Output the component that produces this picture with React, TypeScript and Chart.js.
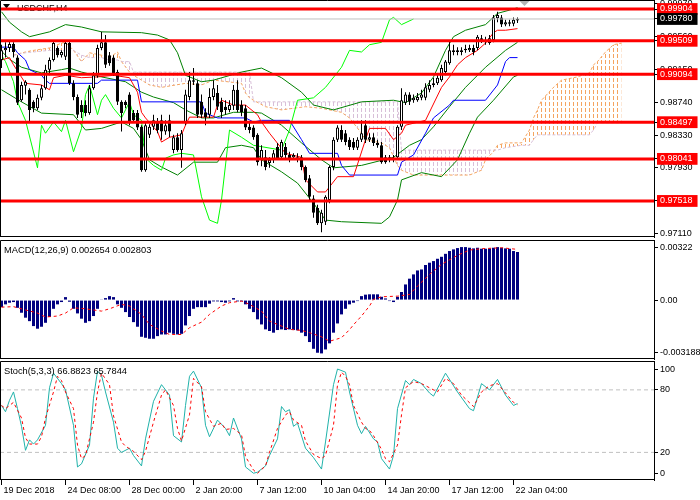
import React, { useEffect, useRef } from "react";
import { Chart, registerables } from "chart.js";
Chart.register(...registerables);

const FONT = "'Liberation Sans', Arial, sans-serif";
const X_MIN = -0.375;
const X_MAX = 163.125;
const TITLE = "USDCHF,H4";
const MACD_TITLE = "MACD(12,26,9) 0.002654 0.002803";
const STOCH_TITLE = "Stoch(5,3,3) 66.8823 65.7844";

// ---------- candles (H4 bars, index 0..129) ----------
const openP = [
  0.9927, 0.9939, 0.9942, 0.9947, 0.993, 0.9877, 0.9895, 0.989, 0.9875, 0.9867,
  0.988, 0.9892, 0.9915, 0.9927, 0.9942, 0.9933, 0.9931, 0.9948, 0.9898, 0.9881,
  0.9871, 0.9871, 0.9861, 0.9892, 0.9908, 0.9942, 0.9949, 0.9933, 0.993, 0.9912,
  0.9875, 0.9875, 0.9884, 0.9861, 0.9861, 0.9844, 0.979, 0.9834, 0.9844, 0.985,
  0.9852, 0.9838, 0.9852, 0.9815, 0.9831, 0.9815, 0.985, 0.9881, 0.9902, 0.9898,
  0.9875, 0.9862, 0.9859, 0.9881, 0.9886, 0.9875, 0.9869, 0.9865, 0.987, 0.989,
  0.9871, 0.9867, 0.9844, 0.9843, 0.9834, 0.9803, 0.9806, 0.9799, 0.9803, 0.9819,
  0.9806, 0.9819, 0.9809, 0.9806, 0.9803, 0.9806, 0.9794, 0.978, 0.9755, 0.9743,
  0.9724, 0.9726, 0.9753, 0.9794, 0.9828, 0.984, 0.9836, 0.9828, 0.9825, 0.9818,
  0.9828, 0.9846, 0.9828, 0.9831, 0.9824, 0.9821, 0.9806, 0.9803, 0.9805, 0.9806,
  0.9844, 0.9874, 0.9884, 0.9877, 0.9877, 0.988, 0.988, 0.989, 0.9896, 0.9898,
  0.9902, 0.9912, 0.9923, 0.9937, 0.9939, 0.9937, 0.9939, 0.9939, 0.9942, 0.9942,
  0.9952, 0.9949, 0.9948, 0.9952, 0.9979, 0.998, 0.9971, 0.9974, 0.9972, 0.9976,
];
const highP = [
  0.9946, 0.9949, 0.9952, 0.9949, 0.9933, 0.99, 0.9902, 0.9892, 0.9877, 0.9884,
  0.9896, 0.9921, 0.993, 0.9952, 0.9944, 0.9939, 0.9952, 0.9951, 0.9902, 0.9884,
  0.9877, 0.9877, 0.9896, 0.9912, 0.9946, 0.9962, 0.9958, 0.9937, 0.9933, 0.9915,
  0.9877, 0.9877, 0.9887, 0.9865, 0.9865, 0.9846, 0.985, 0.9847, 0.9859, 0.9855,
  0.9859, 0.9852, 0.9859, 0.9834, 0.9836, 0.984, 0.989, 0.9912, 0.9917, 0.9902,
  0.9884, 0.9867, 0.9892, 0.9902, 0.9896, 0.988, 0.9877, 0.9877, 0.9896, 0.9902,
  0.9877, 0.9871, 0.985, 0.9846, 0.9836, 0.9821, 0.9815, 0.9806, 0.9815, 0.9824,
  0.9828, 0.9824, 0.9813, 0.9811, 0.9811, 0.9809, 0.9796, 0.9784, 0.9759, 0.9747,
  0.9741, 0.9759, 0.9796, 0.9831, 0.9846, 0.9846, 0.984, 0.9831, 0.983, 0.9831,
  0.9852, 0.9852, 0.9836, 0.9836, 0.9828, 0.9825, 0.9809, 0.9809, 0.9809, 0.9846,
  0.9892, 0.9887, 0.9887, 0.9884, 0.9886, 0.989, 0.9898, 0.9902, 0.9905, 0.9908,
  0.9921, 0.9927, 0.9952, 0.9946, 0.9943, 0.9943, 0.9946, 0.9946, 0.9946, 0.9958,
  0.9958, 0.9956, 0.9958, 0.9983, 0.9987, 0.9983, 0.9977, 0.9977, 0.998, 0.998,
];
const lowP = [
  0.9917, 0.993, 0.9937, 0.993, 0.9871, 0.9875, 0.9884, 0.985, 0.9862, 0.9865,
  0.9877, 0.989, 0.9908, 0.9925, 0.993, 0.993, 0.9927, 0.9896, 0.9877, 0.9855,
  0.9855, 0.9857, 0.9859, 0.989, 0.9905, 0.9939, 0.9917, 0.992, 0.9907, 0.9871,
  0.9838, 0.9867, 0.9846, 0.9849, 0.984, 0.9788, 0.9788, 0.983, 0.984, 0.9836,
  0.9828, 0.9834, 0.9831, 0.9811, 0.9813, 0.9793, 0.9846, 0.9877, 0.9896, 0.9855,
  0.9855, 0.9846, 0.9855, 0.9877, 0.9865, 0.9855, 0.9859, 0.9862, 0.9865, 0.9862,
  0.9857, 0.984, 0.9836, 0.9828, 0.9796, 0.9795, 0.979, 0.9793, 0.9799, 0.9803,
  0.9803, 0.9805, 0.98, 0.9803, 0.98, 0.979, 0.9775, 0.9753, 0.9731, 0.9722,
  0.9713, 0.9722, 0.9749, 0.979, 0.9825, 0.9825, 0.9821, 0.9815, 0.9815, 0.9815,
  0.9825, 0.9824, 0.9825, 0.982, 0.9818, 0.9798, 0.9798, 0.98, 0.98, 0.9803,
  0.984, 0.9871, 0.9871, 0.9874, 0.9875, 0.9877, 0.9877, 0.9887, 0.9893, 0.9896,
  0.99, 0.9908, 0.9921, 0.9933, 0.9933, 0.9933, 0.9936, 0.9937, 0.9933, 0.9939,
  0.9948, 0.9946, 0.9946, 0.9949, 0.9974, 0.9968, 0.9969, 0.9969, 0.9969, 0.9973,
];
const closeP = [
  0.9939, 0.9942, 0.9947, 0.9937, 0.9874, 0.9896, 0.99, 0.9865, 0.9867, 0.988,
  0.9892, 0.9915, 0.9927, 0.9948, 0.9933, 0.9937, 0.9948, 0.9898, 0.9881, 0.9859,
  0.9862, 0.9861, 0.9892, 0.9908, 0.9942, 0.9949, 0.9921, 0.9923, 0.9911, 0.9875,
  0.9861, 0.9871, 0.985, 0.9852, 0.9843, 0.979, 0.9846, 0.9844, 0.9852, 0.984,
  0.9838, 0.9846, 0.9838, 0.9831, 0.9815, 0.9836, 0.9884, 0.9902, 0.99, 0.9859,
  0.9859, 0.9856, 0.9881, 0.9892, 0.9869, 0.9862, 0.9865, 0.9871, 0.989, 0.9865,
  0.9862, 0.9843, 0.984, 0.9831, 0.98, 0.9815, 0.9794, 0.9803, 0.9811, 0.9805,
  0.9825, 0.9809, 0.9805, 0.9809, 0.9806, 0.9794, 0.9778, 0.9757, 0.9737, 0.9724,
  0.9737, 0.9757, 0.9794, 0.9828, 0.9843, 0.9828, 0.9825, 0.9819, 0.9818, 0.9828,
  0.9836, 0.9828, 0.9831, 0.9824, 0.9821, 0.98, 0.98, 0.9806, 0.9803, 0.9844,
  0.9877, 0.9884, 0.9875, 0.988, 0.9881, 0.9884, 0.9893, 0.9896, 0.9898, 0.9905,
  0.9917, 0.9925, 0.9939, 0.9939, 0.9937, 0.9939, 0.9941, 0.9942, 0.9937, 0.9956,
  0.9954, 0.9952, 0.9954, 0.998, 0.9983, 0.9971, 0.9974, 0.9972, 0.9977, 0.9978,
];

// ---------- Bollinger bands [barIndex, price] ----------
const bbUpper = [
  [0, 0.9987], [2, 0.9974], [5, 0.9962], [7, 0.9956], [12, 0.9962], [16, 0.9971], [20, 0.9968],
  [25, 0.9962], [35, 0.9961], [39, 0.9958], [42, 0.9952], [44, 0.9936], [46, 0.9908], [50, 0.99],
  [53, 0.9902], [60, 0.9912], [65, 0.9917], [70, 0.9905], [75, 0.9887], [78, 0.9871], [83, 0.9865],
  [90, 0.9875], [98, 0.9877], [101, 0.9874], [105, 0.9886], [108, 0.9906], [111, 0.9939],
  [113, 0.9956], [116, 0.9964], [121, 0.9971], [124, 0.9985], [127, 0.9989], [129, 0.9992],
];
const bbMiddle = [
  [0, 0.9938], [2, 0.9928], [5, 0.9918], [10, 0.9911], [15, 0.9915], [17, 0.9917], [20, 0.9912],
  [25, 0.9906], [31, 0.99], [35, 0.9887], [38, 0.9881], [43, 0.9874], [46, 0.9865], [50, 0.9855],
  [53, 0.9855], [58, 0.9862], [63, 0.9862], [65, 0.9861], [70, 0.9846], [75, 0.9824], [80, 0.9803],
  [83, 0.9793], [90, 0.9796], [98, 0.9806], [102, 0.9821], [105, 0.9828], [108, 0.9844],
  [112, 0.9869], [116, 0.9893], [121, 0.9918], [126, 0.9939], [129, 0.9949],
];
const bbLower = [
  [0, 0.989], [5, 0.9875], [10, 0.9861], [18, 0.9859], [21, 0.984], [25, 0.9842], [30, 0.985],
  [33, 0.9842], [35, 0.9828], [37, 0.9803], [40, 0.9794], [44, 0.9784], [48, 0.98], [54, 0.98],
  [56, 0.9818], [60, 0.9821], [63, 0.9818], [65, 0.9803], [70, 0.9788], [74, 0.9774], [78, 0.9749],
  [81, 0.9728], [85, 0.9726], [95, 0.9724], [97, 0.9732], [99, 0.9753], [100, 0.9778],
  [105, 0.9787], [110, 0.9782], [114, 0.9803], [117, 0.9836], [119, 0.9856], [123, 0.9877],
  [128, 0.9906], [129, 0.9908],
];

// ---------- Ichimoku [barIndex, price] ----------
const tenkan = [
  [0, 0.9927], [2, 0.993], [3, 0.9921], [6, 0.9898], [10, 0.9896], [12, 0.989], [13, 0.9905],
  [16, 0.9908], [20, 0.9905], [24, 0.9906], [28, 0.9908], [32, 0.9905], [34, 0.9887], [35, 0.9862],
  [36, 0.9855], [39, 0.9838], [40, 0.9825], [42, 0.9831], [45, 0.9834], [46, 0.9846], [47, 0.9856],
  [53, 0.9856], [54, 0.9871], [55, 0.9877], [58, 0.9871], [61, 0.9871], [64, 0.9859], [65, 0.985],
  [67, 0.9836], [71, 0.9811], [75, 0.9806], [76, 0.9778], [79, 0.9763], [81, 0.9763], [84, 0.9782],
  [88, 0.9782], [91, 0.9828], [92, 0.9842], [96, 0.9842], [98, 0.9828], [100, 0.9836],
  [101, 0.9846], [106, 0.9852], [110, 0.9893], [112, 0.9906], [114, 0.9921], [116, 0.993],
  [119, 0.9939], [121, 0.9948], [123, 0.9961], [124, 0.9964], [126, 0.9964], [129, 0.9966],
];
const kijun = [
  [0, 0.9943], [3, 0.9943], [4, 0.9936], [6, 0.9927], [7, 0.9915], [10, 0.9908], [11, 0.9902],
  [12, 0.9898], [24, 0.9898], [25, 0.9902], [34, 0.9902], [35, 0.9875], [50, 0.9875], [51, 0.9861],
  [54, 0.9855], [61, 0.9855], [63, 0.985], [65, 0.9852], [72, 0.9852], [75, 0.9828], [77, 0.9811],
  [84, 0.9811], [85, 0.9796], [87, 0.9784], [99, 0.9784], [100, 0.98], [103, 0.9809],
  [106, 0.9836], [108, 0.9855], [112, 0.9871], [113, 0.9877], [121, 0.9877], [124, 0.9896],
  [126, 0.9925], [127, 0.993], [129, 0.993],
];
const chikou = [
  [0, 0.9933], [1, 0.9925], [3, 0.99], [4, 0.9875], [6, 0.9852], [9, 0.9793], [10, 0.9846],
  [11, 0.9836], [13, 0.985], [15, 0.9838], [16, 0.9852], [18, 0.9813], [20, 0.9842], [21, 0.9884],
  [22, 0.9896], [24, 0.9859], [25, 0.9877], [26, 0.9884], [28, 0.9867], [30, 0.9855], [32, 0.9875],
  [33, 0.9859], [35, 0.9852], [36, 0.9805], [38, 0.9796], [40, 0.979], [41, 0.9805], [43, 0.9809],
  [45, 0.9811], [48, 0.9809], [50, 0.9757], [52, 0.9728], [54, 0.9724], [55, 0.9753], [57, 0.984],
  [60, 0.9831], [63, 0.9821], [70, 0.9815], [72, 0.984], [74, 0.9877], [78, 0.988], [81, 0.9893],
  [85, 0.9918], [87, 0.9939], [90, 0.9937], [92, 0.9946], [95, 0.9949], [97, 0.9977], [98, 0.998],
  [100, 0.9971], [103, 0.9978],
];
const spanIdx = [
  3, 6, 8, 12, 15, 16, 18, 20, 22, 25, 27, 29, 30, 32, 33, 35, 37, 40, 46, 50,
  53, 60, 61, 62, 63, 66, 70, 76, 80, 85, 87, 90, 91, 95, 97, 99, 100, 103, 117, 120,
  121, 123, 124, 126, 130, 132, 133, 134, 135, 138, 140, 144, 147, 148, 149, 151, 153, 155,
];
const spanA = [
  0.9933, 0.9937, 0.9939, 0.9942, 0.9948, 0.9949, 0.9939, 0.9925, 0.9936, 0.9933,
  0.993, 0.9937, 0.9925, 0.9912, 0.9908, 0.9902, 0.9896, 0.9893, 0.9898, 0.9896,
  0.9902, 0.9898, 0.9886, 0.988, 0.9877, 0.9869, 0.9865, 0.9869, 0.9867, 0.9862,
  0.9855, 0.9836, 0.9828, 0.9824, 0.9818, 0.9796, 0.979, 0.9784, 0.9784, 0.979,
  0.9803, 0.9813, 0.9821, 0.9824, 0.9824, 0.984, 0.9855, 0.9865, 0.9877, 0.9893,
  0.9902, 0.9906, 0.9911, 0.9921, 0.9925, 0.9937, 0.9946, 0.9948,
];
const spanB = [
  0.9933, 0.9936, 0.9937, 0.9939, 0.9939, 0.9939, 0.9939, 0.9933, 0.993, 0.993,
  0.9927, 0.9927, 0.9925, 0.9925, 0.9912, 0.9912, 0.9912, 0.9912, 0.9912, 0.9912,
  0.9912, 0.9912, 0.9912, 0.9912, 0.9875, 0.9875, 0.9875, 0.9875, 0.9875, 0.9875,
  0.9875, 0.9875, 0.9875, 0.9875, 0.9875, 0.9875, 0.9815, 0.9815, 0.9815, 0.9815,
  0.9815, 0.9815, 0.9815, 0.9818, 0.9821, 0.9821, 0.9828, 0.9834, 0.9834, 0.9834,
  0.9834, 0.9834, 0.9834, 0.984, 0.9849, 0.9849, 0.9849, 0.9849,
];

// ---------- levels & price axis ----------
const LEVELS = [0.99904, 0.99509, 0.99094, 0.98497, 0.98041, 0.97518];
const CURRENT_PRICE = 0.9978;
const PRICE_TICKS_HIDDEN = [0.9997, 0.9956, 0.9915, 0.9752];
const PRICE_TICKS = [0.9874, 0.9833, 0.9793, 0.9711];
const PRICE_MIN = 0.9707;
const PRICE_MAX = 1.00016;

// ---------- MACD ----------
const macdHist = [
  -0.00043, -0.00026, -0.00016, -0.00012, -0.00047, -0.00077, -0.00107, -0.00128, -0.00158, -0.00174,
  -0.00162, -0.00138, -0.00103, -0.00053, -0.00026, -0.00012, 0.00018, -0.0001, -0.00053, -0.00081,
  -0.00113, -0.00138, -0.00128, -0.00097, -0.00053, 0.00004, 0.00012, 0.00024, 0.00018, -0.00026,
  -0.00047, -0.00073, -0.00103, -0.00134, -0.00162, -0.00223, -0.00229, -0.00235, -0.00235, -0.00219,
  -0.00209, -0.00209, -0.00198, -0.00205, -0.00209, -0.00205, -0.00154, -0.00097, -0.00053, -0.00043,
  -0.00043, -0.00043, -0.00022, -0.00008, -0.00008, -0.00012, -0.00016, -0.00008, 0.00012, -0.00008,
  -0.00008, -0.00026, -0.00053, -0.00073, -0.00117, -0.00148, -0.00178, -0.00188, -0.00198, -0.00182,
  -0.00178, -0.00182, -0.00178, -0.00182, -0.00184, -0.00198, -0.00219, -0.00255, -0.00296, -0.0032,
  -0.00324, -0.003, -0.00263, -0.00198, -0.00142, -0.00087, -0.00053, -0.00026, -0.00016, -0.00006,
  0.00024, 0.00033, 0.00035, 0.00035, 0.00035, 0.0002, 0.0001, -0.00006, -0.00012, 0.0002,
  0.00049, 0.00095, 0.0013, 0.00156, 0.0018, 0.00186, 0.00213, 0.00227, 0.00237, 0.00251,
  0.00263, 0.00281, 0.00298, 0.00308, 0.00316, 0.00322, 0.00322, 0.00318, 0.00314, 0.00318,
  0.00312, 0.00312, 0.00314, 0.00318, 0.00322, 0.00318, 0.00314, 0.00312, 0.00298, 0.00292,
];
const macdSignal = [
  [0, -0.00043], [3, -0.0004], [6, -0.0006], [9, -0.00079], [11, -0.00103], [14, -0.00097],
  [16, -0.00079], [18, -0.00047], [21, -0.00053], [25, -0.00067], [27, -0.00053], [30, -0.00026],
  [32, -0.00036], [35, -0.00087], [37, -0.00148], [40, -0.00188], [42, -0.00209], [45, -0.00209],
  [47, -0.00168], [50, -0.00134], [52, -0.00087], [55, -0.00036], [57, -0.00016], [60, -0.00006],
  [62, -0.00026], [65, -0.00067], [67, -0.00128], [70, -0.00158], [72, -0.00178], [75, -0.00184],
  [77, -0.00198], [80, -0.00223], [82, -0.0025], [85, -0.00229], [87, -0.0018], [88, -0.0015],
  [90, -0.00097], [92, -0.00036], [93, 0.00004], [95, 0.0002], [99, 0.00024], [102, 0.00034],
  [104, 0.00085], [107, 0.00156], [110, 0.00217], [114, 0.00272], [117, 0.00304], [120, 0.00312],
  [125, 0.00318], [129, 0.00308],
];
const MACD_TICKS = [0.00322, 0, -0.003188];
const MACD_TICK_LABELS = ["0.00322", "0.00", "-0.003188"];
const MACD_MIN = -0.00358;
const MACD_MAX = 0.00365;

// ---------- Stochastic ----------
const stochMain = [
  [0, 65], [1, 59], [2, 70], [3, 78], [4, 62], [5, 45], [6, 22], [7, 32], [8, 28], [9, 32],
  [11, 46], [12, 82], [13, 96], [15, 86], [16, 80], [18, 46], [19, 6], [20, 9], [22, 27], [23, 72],
  [24, 98], [25, 94], [26, 78], [28, 49], [29, 24], [30, 20], [32, 24], [33, 17], [35, 7], [36, 33],
  [38, 69], [40, 85], [42, 75], [43, 36], [45, 30], [46, 65], [47, 93], [48, 98], [50, 82], [51, 46],
  [52, 35], [54, 51], [56, 43], [57, 36], [58, 53], [60, 33], [61, 6], [63, 0], [64, 1], [66, 7],
  [67, 17], [69, 33], [70, 64], [71, 59], [72, 61], [73, 45], [74, 48], [76, 24], [78, 15], [80, 4],
  [81, 30], [83, 85], [84, 100], [86, 97], [87, 78], [89, 46], [90, 38], [91, 45], [93, 33], [94, 30],
  [95, 14], [97, 4], [98, 17], [99, 62], [101, 89], [102, 85], [103, 90], [105, 86], [107, 77],
  [108, 74], [111, 96], [114, 78], [117, 62], [118, 60], [120, 86], [122, 80], [124, 90], [126, 75],
  [128, 65], [129, 66.88],
];
const stochSignal = [
  [0, 65], [1, 62], [3, 68], [5, 53], [6, 34], [7, 28], [9, 28], [10, 35], [11, 53], [13, 78],
  [14, 93], [15, 89], [16, 78], [18, 62], [19, 27], [20, 14], [21, 17], [23, 49], [24, 78], [25, 96],
  [27, 85], [28, 55], [30, 30], [31, 26], [33, 21], [35, 13], [36, 21], [38, 49], [40, 75], [41, 80],
  [43, 65], [44, 43], [45, 31], [47, 56], [48, 91], [50, 83], [51, 59], [53, 45], [55, 48], [56, 42],
  [58, 43], [60, 37], [61, 16], [63, 3], [64, 0], [66, 7], [67, 20], [69, 43], [71, 56], [72, 59],
  [73, 51], [75, 46], [76, 31], [78, 18], [80, 14], [81, 17], [83, 46], [84, 85], [85, 97], [86, 93],
  [87, 85], [88, 65], [90, 49], [91, 43], [92, 41], [93, 36], [95, 23], [96, 14], [97, 11], [99, 27],
  [100, 56], [101, 82], [103, 88], [105, 86], [107, 82], [109, 78], [111, 91], [113, 86], [115, 75],
  [118, 64], [120, 78], [122, 84], [124, 86], [126, 77], [128, 68], [129, 65.78],
];
const STOCH_LEVELS = [80, 20];
const STOCH_TICKS = [100, 80, 20, 0];
const STOCH_MIN = -6.5;
const STOCH_MAX = 107.7;

// ---------- time axis ----------
const X_TICK_IDX = [0, 16, 32, 48, 64, 80, 96, 112, 128];
const X_TICK_LABELS = [
  "19 Dec 2018", "24 Dec 08:00", "28 Dec 00:00", "2 Jan 20:00", "7 Jan 12:00",
  "10 Jan 04:00", "14 Jan 20:00", "17 Jan 12:00", "22 Jan 04:00",
];

// ---------- helpers ----------
const xy = (pairs: number[][]) => pairs.map(([x, y]) => ({ x, y }));
const hLine = (v: number) => [{ x: X_MIN, y: v }, { x: X_MAX, y: v }];

function makePattern(color: string) {
  const c = document.createElement("canvas");
  c.width = 4;
  c.height = 6;
  const g = c.getContext("2d")!;
  g.fillStyle = color;
  g.fillRect(1, 0, 1, 4);
  return g.createPattern(c, "repeat")!;
}

const framePlugin = {
  id: "frame",
  afterDraw(chart: any) {
    const { ctx, chartArea: a } = chart;
    ctx.save();
    ctx.strokeStyle = "#000";
    ctx.lineWidth = 1;
    ctx.beginPath();
    ctx.moveTo(a.left + 0.5, a.bottom - 0.5);
    ctx.lineTo(a.left + 0.5, a.top + 0.5);
    ctx.lineTo(a.right, a.top + 0.5);
    ctx.moveTo(a.left, a.bottom - 0.5);
    ctx.lineTo(a.right, a.bottom - 0.5);
    ctx.stroke();
    ctx.restore();
  },
};

function headerPlugin(text: string, baseline: number) {
  return {
    id: "header",
    afterDatasetsDraw(chart: any) {
      const ctx = chart.ctx;
      ctx.save();
      ctx.fillStyle = "#000";
      ctx.font = `9.3px ${FONT}`;
      ctx.textBaseline = "alphabetic";
      ctx.fillText(text, chart.chartArea.left + 4, baseline);
      ctx.restore();
    },
  };
}

const mainDecor = {
  id: "mainDecor",
  beforeDatasetsDraw(chart: any) {
    const ctx = chart.ctx;
    ctx.save();
    ctx.fillStyle = "#000";
    ctx.beginPath();
    ctx.moveTo(3, 4);
    ctx.lineTo(10, 4);
    ctx.lineTo(6.5, 8.5);
    ctx.closePath();
    ctx.fill();
    ctx.font = `9px ${FONT}`;
    ctx.textBaseline = "alphabetic";
    ctx.fillText(TITLE, 17, 11);
    const sx = chart.scales.x.getPixelForValue(closeP.length + 0.75);
    ctx.fillStyle = "#B4B4B4";
    ctx.beginPath();
    ctx.moveTo(sx - 6, 0);
    ctx.lineTo(sx + 6, 0);
    ctx.lineTo(sx, 6);
    ctx.closePath();
    ctx.fill();
    ctx.restore();
  },
};

const rightAxis = (min: number, max: number, tickVals: number[], extra: any = {}) => ({
  type: "linear",
  position: "right",
  min,
  max,
  afterBuildTicks: (s: any) => {
    s.ticks = tickVals.map((v) => ({ value: v }));
  },
  afterFit: (s: any) => {
    s.width = 46;
    s.paddingTop = 0;
    s.paddingBottom = 0;
  },
  grid: { drawOnChartArea: false, drawTicks: true, tickLength: 4, color: "#000" },
  border: { display: true, color: "#000", width: 1 },
  ...extra,
  ticks: {
    autoSkip: false,
    padding: 2,
    font: { family: FONT, size: 9 },
    color: "#000",
    ...(extra.ticks || {}),
  },
});

const hiddenX = {
  type: "linear",
  min: X_MIN,
  max: X_MAX,
  offset: false,
  grid: { offset: false },
  display: false,
};

const lineDs = (data: any[], color: string, extra: any = {}) => ({
  type: "line",
  data,
  borderColor: color,
  backgroundColor: color,
  borderWidth: 1,
  pointRadius: 0,
  tension: 0,
  fill: false,
  ...extra,
});

export default function App() {
  const mainRef = useRef<HTMLCanvasElement>(null);
  const macdRef = useRef<HTMLCanvasElement>(null);
  const stochRef = useRef<HTMLCanvasElement>(null);

  useEffect(() => {
    const orangePat = makePattern("#F4A460");
    const plumPat = makePattern("#D8BFD8");

    const boxed = new Set([...LEVELS, CURRENT_PRICE]);
    const allPriceTicks = [...PRICE_TICKS_HIDDEN, ...PRICE_TICKS, ...LEVELS, CURRENT_PRICE];

    const datasets: any[] = [];
    LEVELS.forEach((v) => datasets.push(lineDs(hLine(v), "#FF0000", { borderWidth: 3, order: 0 })));
    datasets.push(lineDs(hLine(CURRENT_PRICE), "#C0C0C0", { order: 1 }));
    datasets.push({
      type: "bar",
      data: closeP.map((c, i) => ({ x: i, y: [openP[i], c] })),
      backgroundColor: closeP.map((c, i) => (c >= openP[i] ? "#FFFFFF" : "#000000")),
      borderColor: "#000000",
      borderWidth: 1,
      borderSkipped: false,
      barThickness: 3,
      grouped: false,
      inflateAmount: 0,
      order: 2,
    });
    datasets.push({
      type: "bar",
      data: lowP.map((l, i) => ({ x: i, y: [l, highP[i]] })),
      backgroundColor: "#000000",
      borderWidth: 0,
      barThickness: 1,
      grouped: false,
      inflateAmount: 0,
      order: 3,
    });
    datasets.push(lineDs(xy(tenkan), "#FF0000", { order: 4 }));
    datasets.push(lineDs(xy(kijun), "#0000FF", { order: 4 }));
    datasets.push(lineDs(xy(chikou), "#00FF00", { order: 4 }));
    datasets.push(lineDs(xy(bbUpper), "#008000", { order: 5 }));
    datasets.push(lineDs(xy(bbMiddle), "#008000", { order: 5 }));
    datasets.push(lineDs(xy(bbLower), "#008000", { order: 5 }));
    const bIndex = datasets.length;
    datasets.push(
      lineDs(spanIdx.map((x, i) => ({ x, y: spanB[i] })), "#D8BFD8", { borderDash: [3, 2], order: 6 })
    );
    // cloud: span A filled to span B; colour chosen per segment by which span is higher
    const cloudColor = (ctx: any) => {
      const i0 = ctx.p0DataIndex;
      const i1 = ctx.p1DataIndex;
      const a = spanA[i0] + spanA[i1];
      const b = spanB[i0] + spanB[i1];
      return a >= b ? orangePat : plumPat;
    };
    datasets.push(
      lineDs(spanIdx.map((x, i) => ({ x, y: spanA[i] })), "#F4A460", {
        borderDash: [3, 2],
        order: 7,
        backgroundColor: orangePat,
        fill: bIndex,
        segment: { backgroundColor: cloudColor },
      })
    );

    const common = {
      responsive: false,
      animation: false,
      devicePixelRatio: 1,
      events: [],
      plugins: { legend: { display: false }, tooltip: { enabled: false } },
    };

    const main = new Chart(mainRef.current!, {
      type: "line",
      data: { datasets },
      options: {
        ...common,
        layout: { padding: { top: 0, bottom: 1, left: 0, right: 0 } },
        scales: {
          x: hiddenX,
          y: rightAxis(PRICE_MIN, PRICE_MAX, allPriceTicks, {
            ticks: {
              callback: (v: any) => Number(v).toFixed(5),
              color: (ctx: any) => (ctx.tick && boxed.has(ctx.tick.value) ? "#FFFFFF" : "#000000"),
              showLabelBackdrop: (ctx: any) => !!(ctx.tick && boxed.has(ctx.tick.value)),
              backdropColor: (ctx: any) =>
                ctx.tick && ctx.tick.value === CURRENT_PRICE ? "#000000" : "#FF0000",
              backdropPadding: { top: 0.5, bottom: 0.5, left: 3, right: 5 },
            },
          }),
        },
      } as any,
      plugins: [mainDecor, framePlugin],
    } as any);

    const macd = new Chart(macdRef.current!, {
      type: "line",
      data: {
        datasets: [
          lineDs(xy(macdSignal), "#FF0000", { borderDash: [3, 3], order: 0 }),
          {
            type: "bar",
            data: macdHist.map((v, i) => ({ x: i, y: v })),
            backgroundColor: "#000080",
            borderWidth: 0,
            barThickness: 3,
            grouped: false,
            inflateAmount: 0,
            order: 1,
          },
        ],
      },
      options: {
        ...common,
        layout: { padding: { top: 2, bottom: 1, left: 0, right: 0 } },
        scales: {
          x: hiddenX,
          y: rightAxis(MACD_MIN, MACD_MAX, MACD_TICKS, {
            ticks: { callback: (_v: any, i: number) => MACD_TICK_LABELS[i] },
          }),
        },
      } as any,
      plugins: [headerPlugin(MACD_TITLE, 15), framePlugin],
    } as any);

    const stoch = new Chart(stochRef.current!, {
      type: "line",
      data: {
        datasets: [
          lineDs(xy(stochMain), "#20B2AA", { order: 1 }),
          lineDs(xy(stochSignal), "#FF0000", { borderDash: [3, 3], order: 0 }),
          ...STOCH_LEVELS.map((v) => lineDs(hLine(v), "#C0C0C0", { borderDash: [4, 3], order: 2 })),
        ],
      },
      options: {
        ...common,
        layout: { padding: { top: 1, bottom: 0, left: 0, right: 0 } },
        scales: {
          x: {
            type: "linear",
            position: "bottom",
            min: X_MIN,
            max: X_MAX,
            offset: false,
            afterBuildTicks: (s: any) => {
              s.ticks = X_TICK_IDX.map((v) => ({ value: v }));
            },
            afterFit: (s: any) => {
              s.height = 20;
              s.paddingLeft = 0;
              s.paddingRight = 0;
            },
            grid: { drawOnChartArea: false, drawTicks: true, tickLength: 5, color: "#000", offset: false },
            border: { display: false },
            ticks: {
              autoSkip: false,
              maxRotation: 0,
              minRotation: 0,
              align: "start",
              labelOffset: 2,
              padding: 0,
              font: { family: FONT, size: 9 },
              color: "#000",
              callback: (_v: any, i: number) => X_TICK_LABELS[i],
            },
          },
          y: rightAxis(STOCH_MIN, STOCH_MAX, STOCH_TICKS, {
            ticks: { callback: (v: any) => String(v) },
          }),
        },
      } as any,
      plugins: [headerPlugin(STOCH_TITLE, 14), framePlugin],
    } as any);

    return () => {
      main.destroy();
      macd.destroy();
      stoch.destroy();
    };
  }, []);

  return (
    <div
      style={{
        position: "fixed",
        left: 0,
        top: 0,
        width: 700,
        height: 500,
        background: "#FFFFFF",
        overflow: "hidden",
      }}
    >
      <canvas ref={mainRef} width={700} height={238} style={{ position: "absolute", left: 0, top: 0 }} />
      <canvas ref={macdRef} width={700} height={122} style={{ position: "absolute", left: 0, top: 238 }} />
      <canvas ref={stochRef} width={700} height={140} style={{ position: "absolute", left: 0, top: 360 }} />
    </div>
  );
}
